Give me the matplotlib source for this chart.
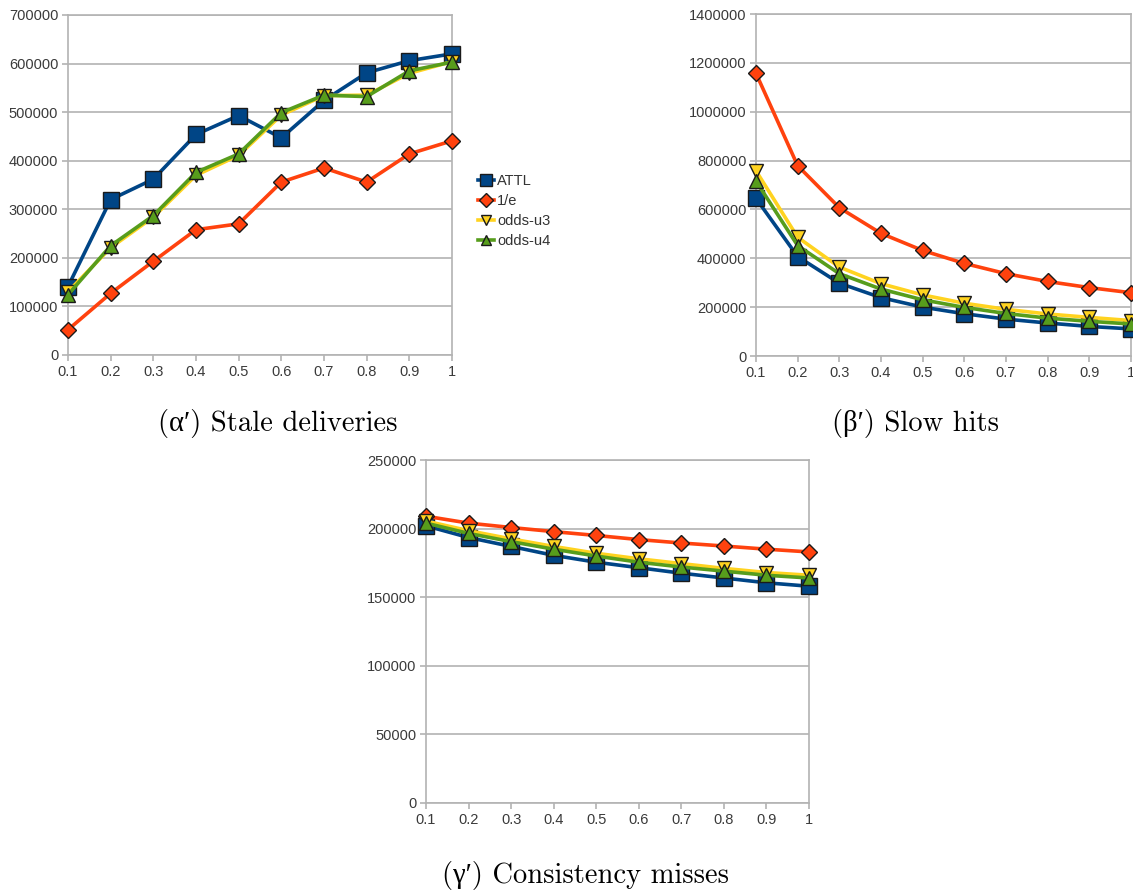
import matplotlib
matplotlib.use("Agg")
import matplotlib.pyplot as plt
import numpy as np

# x categories shared by all three charts
x_labels = ["0.1", "0.2", "0.3", "0.4", "0.5", "0.6", "0.7", "0.8", "0.9", "1"]
series_names = ["ATTL", "1/e", "odds-u3", "odds-u4"]

# (a) stale deliveries
stale_attl = [141000, 320000, 362000, 454000, 493000, 447000, 524000, 581000, 606000, 620000]
stale_inve = [52000, 127000, 193000, 258000, 270000, 356000, 385000, 356000, 414000, 441000]
stale_u3 = [130000, 221000, 284000, 370000, 411000, 494000, 534000, 535000, 580000, 604000]
stale_u4 = [124000, 225000, 287000, 376000, 414000, 499000, 535000, 532000, 585000, 603000]

# (b) slow hits
slow_attl = [645000, 407000, 298000, 239000, 200000, 173000, 151000, 135000, 121000, 111000]
slow_inve = [1157000, 779000, 607000, 502000, 432000, 379000, 337000, 305000, 280000, 259000]
slow_u3 = [758000, 486000, 364000, 296000, 250000, 216000, 191000, 172000, 158000, 145000]
slow_u4 = [716000, 452000, 337000, 274000, 230000, 199000, 174000, 155000, 142000, 131000]

# (c) consistency misses
cons_attl = [202000, 193500, 187000, 180500, 175500, 171500, 167500, 164000, 160500, 158000]
cons_inve = [209000, 204000, 200800, 197800, 195000, 192000, 189500, 187300, 185000, 183000]
cons_u3 = [205500, 198500, 192500, 187000, 182000, 178000, 174500, 171000, 168000, 166000]
cons_u4 = [204000, 196500, 190500, 185000, 180000, 175500, 172000, 169000, 166000, 164000]

colors = ["#004586", "#ff420e", "#ffd320", "#579d1c"]
markers = ["s", "D", "v", "^"]
msizes = [11, 8.5, 9.5, 9.5]

W, H = 1133, 890


def px_axes(fig, x0, x1, y0, y1):
    # pixel box -> figure fraction
    return fig.add_axes([x0 / W, 1 - y1 / H, (x1 - x0) / W, (y1 - y0) / H])


def draw(ax, data, ymax, ystep):
    xs = np.arange(len(x_labels))
    handles = []
    for vals, c, m, ms, name in zip(data, colors, markers, msizes, series_names):
        h, = ax.plot(xs, vals, color=c, lw=2.6, marker=m, ms=ms,
                     mfc=c, mec="#1a1a1a", mew=1.0, clip_on=False, label=name, zorder=3)
        handles.append(h)
    ax.set_xlim(0, len(x_labels) - 1)
    ax.set_ylim(0, ymax)
    ax.set_xticks(xs)
    ax.set_xticklabels(x_labels)
    ax.set_yticks(np.arange(0, ymax + 1, ystep))
    ax.set_yticklabels([str(int(v)) for v in np.arange(0, ymax + 1, ystep)])
    ax.yaxis.grid(True, color="#b3b3b3", lw=1.2)
    ax.set_axisbelow(True)
    for s in ax.spines.values():
        s.set_color("#b3b3b3")
        s.set_linewidth(1.2)
    ax.tick_params(colors="#b3b3b3", labelcolor="#3a3a3a", labelsize=10.5,
                   length=4.5, width=1.2, pad=2.5)
    for lab in ax.get_xticklabels() + ax.get_yticklabels():
        lab.set_family("Liberation Sans")
    return handles


fig = plt.figure(figsize=(W / 100, H / 100), dpi=100)

ax1 = px_axes(fig, 68, 452, 15, 355)
hs = draw(ax1, [stale_attl, stale_inve, stale_u3, stale_u4], 700000, 100000)

ax2 = px_axes(fig, 756, 1131, 14, 356)
draw(ax2, [slow_attl, slow_inve, slow_u3, slow_u4], 1400000, 200000)

ax3 = px_axes(fig, 426, 809, 460, 803)
draw(ax3, [cons_attl, cons_inve, cons_u3, cons_u4], 250000, 50000)

leg = fig.legend(handles=hs, loc="center left", bbox_to_anchor=(471 / W, 1 - 211 / H),
                 frameon=False, handlelength=1.1, handletextpad=0.2,
                 labelspacing=0.42, borderpad=0, markerscale=0.8,
                 prop={"family": "Liberation Sans", "size": 10.5})
for t in leg.get_texts():
    t.set_color("#333333")

cap = dict(family=["cmr10", "Liberation Serif", "DejaVu Serif"], fontsize=16,
           ha="center", va="center")
c1 = fig.text(278 / W, 1 - 424 / H, "(\u03b1\u2032) Stale deliveries", **cap)
c2 = fig.text(915 / W, 1 - 424 / H, "(\u03b2\u2032) Slow hits", **cap)
c3 = fig.text(585 / W, 1 - 876 / H, "(\u03b3\u2032) Consistency misses", **cap)

# size captions so the first one is about 240 px wide, like the reference
r = fig.canvas.get_renderer()
w = c1.get_window_extent(r).width
fs = 16 * 240 / w
for c in (c1, c2, c3):
    c.set_fontsize(fs)

fig.savefig("out.png", dpi=100)
